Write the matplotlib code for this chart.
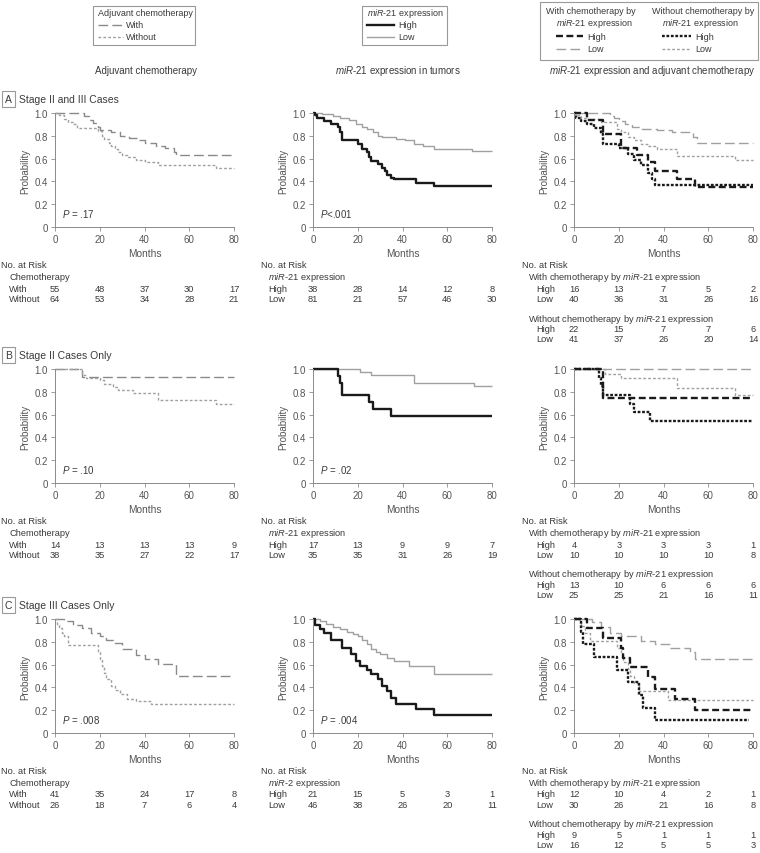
import matplotlib
matplotlib.use('Agg')
import matplotlib.pyplot as plt
from matplotlib import transforms
from matplotlib.lines import Line2D
from matplotlib.patches import Rectangle

plt.rcParams['font.family'] = ['Liberation Sans', 'DejaVu Sans']
plt.rcParams['mathtext.fontset'] = 'custom'
plt.rcParams['mathtext.rm'] = 'Liberation Sans'
plt.rcParams['mathtext.it'] = 'Liberation Sans:italic'
plt.rcParams['lines.scale_dashes'] = False

W, H = 760, 854
TXT = '#3a3a3a'
AXC = '#8a8a8a'
BLACK = '#1a1a1a'
FS = 6.7
MIR = r'$\mathit{miR}$-$\mathit{21}$'

MONTHS = [0, 20, 40, 60, 80]
YTICKS = [0, 0.2, 0.4, 0.6, 0.8, 1.0]
YTICKLABELS = ['0', '0.2', '0.4', '0.6', '0.8', '1.0']

# ---- A: stage II and III ----
A_WITH_T = [0, 13, 15, 17, 19, 20, 25, 29, 33, 37, 40, 45, 49, 53, 54]
A_WITH_S = [1, 0.97, 0.94, 0.91, 0.88, 0.85, 0.83, 0.80, 0.78, 0.76, 0.74, 0.71, 0.69, 0.66, 0.63]
A_WO_T = [0, 2, 4, 6, 8, 10, 19, 21, 22, 24, 25, 27, 28, 30, 32, 36, 40, 46, 72]
A_WO_S = [1, 0.98, 0.95, 0.92, 0.90, 0.87, 0.84, 0.80, 0.77, 0.74, 0.71, 0.68, 0.66, 0.63, 0.61, 0.59, 0.57, 0.54, 0.515]
A_HIGH_T = [0, 1, 2, 5, 8, 11, 12, 13, 20, 22, 24, 25, 26, 29, 31, 32, 33, 35, 36, 46, 54]
A_HIGH_S = [1, 0.98, 0.96, 0.93, 0.90, 0.875, 0.83, 0.76, 0.73, 0.68, 0.655, 0.61, 0.58, 0.55, 0.52, 0.49, 0.46, 0.43, 0.42, 0.39, 0.36]
A_LOW_T = [0, 4, 9, 12, 16, 19, 22, 24, 27, 29, 31, 37, 41, 45, 49, 54, 71]
A_LOW_S = [1, 0.99, 0.977, 0.96, 0.94, 0.90, 0.875, 0.86, 0.83, 0.80, 0.79, 0.77, 0.76, 0.73, 0.71, 0.68, 0.665]
A_WH_T = [0, 6, 13, 21, 28, 33, 36, 46, 54]
A_WH_S = [1, 0.94, 0.82, 0.69, 0.63, 0.57, 0.49, 0.42, 0.35]
A_WL_T = [0, 16, 18, 20, 23, 26, 29, 37, 44, 53, 55]
A_WL_S = [1, 0.975, 0.96, 0.93, 0.90, 0.875, 0.86, 0.85, 0.83, 0.79, 0.74]
A_WOH_T = [0, 1, 3, 6, 9, 12, 13, 20, 24, 27, 30, 33, 35, 36]
A_WOH_S = [1, 0.96, 0.93, 0.90, 0.87, 0.82, 0.73, 0.69, 0.64, 0.59, 0.54, 0.47, 0.42, 0.37]
A_WOL_T = [0, 1, 3, 6, 12, 19, 21, 24, 27, 30, 33, 37, 46, 72]
A_WOL_S = [1, 0.98, 0.96, 0.95, 0.92, 0.86, 0.83, 0.79, 0.76, 0.73, 0.71, 0.68, 0.62, 0.59]

# ---- B: stage II only ----
B_WITH_T = [0, 12]
B_WITH_S = [1, 0.93]
B_WO_T = [0, 12, 14, 20, 22, 26, 28, 35, 46, 72]
B_WO_S = [1, 0.95, 0.92, 0.90, 0.87, 0.84, 0.82, 0.79, 0.73, 0.69]
B_HIGH_T = [0, 11, 12, 13, 25, 27, 35]
B_HIGH_S = [1, 0.94, 0.88, 0.77, 0.71, 0.65, 0.59]
B_LOW_T = [0, 21, 26, 45, 72]
B_LOW_S = [1, 0.97, 0.95, 0.88, 0.85]
B_WH_T = [0, 13]
B_WH_S = [1, 0.75]
B_WL_T = [0]
B_WL_S = [1]
B_WOH_T = [0, 11, 12, 13, 25, 27, 34]
B_WOH_S = [1, 0.92, 0.85, 0.77, 0.69, 0.62, 0.54]
B_WOL_T = [0, 14, 21, 46, 72]
B_WOL_S = [1, 0.96, 0.92, 0.83, 0.77]

# ---- C: stage III only ----
C_WITH_T = [0, 4, 8, 12, 16, 20, 23, 26, 30, 36, 40, 46, 54]
C_WITH_S = [1, 0.98, 0.95, 0.92, 0.88, 0.85, 0.82, 0.79, 0.735, 0.68, 0.65, 0.605, 0.50]
C_WO_T = [0, 1, 2, 3, 4, 6, 19, 20, 21, 22, 23, 25, 27, 29, 32, 36, 43]
C_WO_S = [1, 0.96, 0.92, 0.88, 0.85, 0.77, 0.71, 0.65, 0.59, 0.53, 0.47, 0.415, 0.38, 0.34, 0.30, 0.285, 0.256]
C_HIGH_T = [0, 1, 3, 5, 8, 13, 17, 19, 21, 24, 26, 29, 31, 33, 35, 37, 46, 54]
C_HIGH_S = [1, 0.95, 0.91, 0.88, 0.82, 0.75, 0.69, 0.63, 0.59, 0.55, 0.52, 0.47, 0.415, 0.37, 0.31, 0.256, 0.21, 0.155]
C_LOW_T = [0, 3, 6, 9, 12, 15, 18, 20, 22, 24, 26, 28, 30, 33, 36, 43, 54]
C_LOW_S = [1, 0.98, 0.96, 0.93, 0.91, 0.89, 0.87, 0.85, 0.82, 0.78, 0.74, 0.71, 0.69, 0.66, 0.63, 0.59, 0.52]
C_WH_T = [0, 6, 13, 21, 22, 25, 33, 36, 45, 54]
C_WH_S = [1, 0.92, 0.83, 0.75, 0.66, 0.58, 0.49, 0.39, 0.30, 0.20]
C_WL_T = [0, 8, 12, 16, 21, 30, 36, 43, 52, 54]
C_WL_S = [1, 0.97, 0.93, 0.88, 0.85, 0.81, 0.78, 0.75, 0.71, 0.645]
C_WOH_T = [0, 3, 4, 9, 19, 24, 29, 31, 36]
C_WOH_S = [1, 0.889, 0.778, 0.667, 0.556, 0.444, 0.333, 0.222, 0.111]
C_WOL_T = [0, 3, 5, 7, 19, 21, 22, 24, 25, 27, 29, 42]
C_WOL_S = [1, 0.94, 0.875, 0.81, 0.75, 0.69, 0.625, 0.5625, 0.5, 0.4375, 0.37, 0.29]

# numbers at risk
A_RISK_CHEMO = [[55, 48, 37, 30, 17], [64, 53, 34, 28, 21]]
A_RISK_MIR = [[38, 28, 14, 12, 8], [81, 21, 57, 46, 30]]
A_RISK_WITH = [[16, 13, 7, 5, 2], [40, 36, 31, 26, 16]]
A_RISK_WO = [[22, 15, 7, 7, 6], [41, 37, 26, 20, 14]]
B_RISK_CHEMO = [[14, 13, 13, 13, 9], [38, 35, 27, 22, 17]]
B_RISK_MIR = [[17, 13, 9, 9, 7], [35, 35, 31, 26, 19]]
B_RISK_WITH = [[4, 3, 3, 3, 1], [10, 10, 10, 10, 8]]
B_RISK_WO = [[13, 10, 6, 6, 6], [25, 25, 21, 16, 11]]
C_RISK_CHEMO = [[41, 35, 24, 17, 8], [26, 18, 7, 6, 4]]
C_RISK_MIR = [[21, 15, 5, 3, 1], [46, 38, 26, 20, 11]]
C_RISK_WITH = [[12, 10, 4, 2, 1], [30, 26, 21, 16, 8]]
C_RISK_WO = [[9, 5, 1, 1, 1], [16, 12, 5, 5, 3]]

P_VALUES = [['.17', '<.001'], ['.10', '.02'], ['.008', '.004']]
PANEL_LETTERS = ['A', 'B', 'C']
PANEL_TITLES = ['Stage II and III Cases', 'Stage II Cases Only', 'Stage III Cases Only']
MIR_SUB = [MIR + ' expression', MIR + ' expression', r'$\mathit{miR}$-$\mathit{2}$ expression']

LG = '#a0a0a0'
STY = {
    'with': dict(color='#8a8a8a', lw=1.0, dashes=(7, 3)),
    'without': dict(color=LG, lw=1.0, dashes=(2, 1.5)),
    'high': dict(color=BLACK, lw=1.7, ls='-'),
    'low': dict(color=LG, lw=1.0, ls='-'),
    'with_high': dict(color=BLACK, lw=1.7, dashes=(5, 2.5)),
    'with_low': dict(color=LG, lw=1.0, dashes=(7, 3)),
    'without_high': dict(color=BLACK, lw=1.7, dashes=(2, 1.2)),
    'without_low': dict(color=LG, lw=1.0, dashes=(2, 1.5)),
}

COL_X = [55, 313, 574]
ROW_Y = [114, 370, 620]
AW, AH = 179, 114

fig = plt.figure(figsize=(W / 100, H / 100), dpi=100)


def fx(x):
    return x / W


def fy(y):
    return 1 - y / H


def ftext(x, y, s, **kw):
    kw.setdefault('fontsize', FS)
    kw.setdefault('color', TXT)
    kw.setdefault('va', 'center')
    fig.text(fx(x), fy(y), s, **kw)


def km(ax, t, s, key, end=80):
    ax.step(list(t) + [end], list(s) + [s[-1]], where='post', clip_on=False,
            solid_capstyle='butt', **STY[key])


def style_axes(ax):
    ax.set_xlim(0, 80)
    ax.set_ylim(0, 1)
    for side in ['top', 'right']:
        ax.spines[side].set_visible(False)
    for side in ['left', 'bottom']:
        ax.spines[side].set_color(AXC)
        ax.spines[side].set_linewidth(0.7)
    ax.set_xticks(MONTHS)
    ax.set_yticks(YTICKS)
    ax.set_yticklabels(YTICKLABELS)
    ax.tick_params(length=3, width=0.6, color=AXC, labelsize=7,
                   labelcolor='#555555', pad=2)
    ax.set_xlabel('Months', fontsize=7.3, color='#555555', labelpad=3)
    ax.set_ylabel('Probability', fontsize=7, color='#555555', labelpad=3)
    ax.patch.set_visible(False)


def risk_rows(ax, y, label, values, lx):
    tr = transforms.blended_transform_factory(ax.transData, fig.transFigure)
    ftext(lx, y, label, ha='left')
    for m, v in zip(MONTHS, values):
        ax.text(m, fy(y), str(v), transform=tr, ha='center', va='center',
                fontsize=FS, color=TXT)


def legend_line(x0, x1, y, key):
    fig.add_artist(Line2D([fx(x0), fx(x1)], [fy(y), fy(y)],
                          transform=fig.transFigure, **STY[key]))


def box(x0, y0, x1, y1):
    fig.add_artist(Rectangle((fx(x0), fy(y1)), fx(x1) - fx(x0), fy(y0) - fy(y1),
                             transform=fig.transFigure, fill=False,
                             edgecolor='#999999', lw=0.8))


LFS = 6.5
# legends
box(93, 7, 195, 46)
ftext(98, 14, 'Adjuvant chemotherapy', fontsize=LFS)
legend_line(98, 123, 26, 'with'); ftext(126, 26, 'With', fontsize=LFS)
legend_line(98, 123, 38, 'without'); ftext(126, 38, 'Without', fontsize=LFS)

box(362, 7, 447, 46)
ftext(367, 14, MIR + ' expression', fontsize=LFS)
legend_line(367, 394, 26, 'high'); ftext(398, 26, 'High', fontsize=LFS)
legend_line(367, 394, 38, 'low'); ftext(398, 38, 'Low', fontsize=LFS)

box(540, 3, 758, 61)
ftext(546, 12, 'With chemotherapy by', fontsize=LFS)
ftext(556, 24, MIR + ' expression', fontsize=LFS)
legend_line(556, 583, 37, 'with_high'); ftext(587, 37, 'High', fontsize=LFS)
legend_line(556, 583, 50, 'with_low'); ftext(587, 50, 'Low', fontsize=LFS)
ftext(652, 12, 'Without chemotherapy by', fontsize=LFS)
ftext(662, 24, MIR + ' expression', fontsize=LFS)
legend_line(662, 691, 37, 'without_high'); ftext(695, 37, 'High', fontsize=LFS)
legend_line(662, 691, 50, 'without_low'); ftext(695, 50, 'Low', fontsize=LFS)

# column titles
ftext(146, 71, 'Adjuvant chemotherapy', ha='center', fontsize=7)
ftext(398, 71, MIR + ' expression in tumors', ha='center', fontsize=7)
ftext(652, 71, MIR + ' expression and adjuvant chemotherapy', ha='center', fontsize=7)

curves_a = [
    [(A_WITH_T, A_WITH_S, 'with'), (A_WO_T, A_WO_S, 'without')],
    [(A_LOW_T, A_LOW_S, 'low'), (A_HIGH_T, A_HIGH_S, 'high')],
    [(A_WL_T, A_WL_S, 'with_low'), (A_WOL_T, A_WOL_S, 'without_low'),
     (A_WOH_T, A_WOH_S, 'without_high'), (A_WH_T, A_WH_S, 'with_high')],
]
curves_b = [
    [(B_WITH_T, B_WITH_S, 'with'), (B_WO_T, B_WO_S, 'without')],
    [(B_LOW_T, B_LOW_S, 'low'), (B_HIGH_T, B_HIGH_S, 'high')],
    [(B_WL_T, B_WL_S, 'with_low'), (B_WOL_T, B_WOL_S, 'without_low'),
     (B_WOH_T, B_WOH_S, 'without_high'), (B_WH_T, B_WH_S, 'with_high')],
]
curves_c = [
    [(C_WITH_T, C_WITH_S, 'with'), (C_WO_T, C_WO_S, 'without')],
    [(C_LOW_T, C_LOW_S, 'low'), (C_HIGH_T, C_HIGH_S, 'high')],
    [(C_WL_T, C_WL_S, 'with_low'), (C_WOL_T, C_WOL_S, 'without_low'),
     (C_WOH_T, C_WOH_S, 'without_high', 78), (C_WH_T, C_WH_S, 'with_high')],
]
all_curves = [curves_a, curves_b, curves_c]
risks = [
    (A_RISK_CHEMO, A_RISK_MIR, A_RISK_WITH, A_RISK_WO),
    (B_RISK_CHEMO, B_RISK_MIR, B_RISK_WITH, B_RISK_WO),
    (C_RISK_CHEMO, C_RISK_MIR, C_RISK_WITH, C_RISK_WO),
]

# row offsets below axes bottom
OFF = [38, 50, 61, 72, 91, 102, 112]

for r in range(3):
    top = ROW_Y[r]
    bot = top + AH
    # panel label
    ftext(8.5, top - 14, PANEL_LETTERS[r], ha='center', fontsize=7.5,
          bbox=dict(boxstyle='square,pad=0.3', fc='white', ec='#999999', lw=0.8))
    ftext(19, top - 14, PANEL_TITLES[r], ha='left', fontsize=7.5)
    axes = []
    for c in range(3):
        ax = fig.add_axes([fx(COL_X[c]), fy(bot), AW / W, AH / H])
        style_axes(ax)
        for item in all_curves[r][c]:
            km(ax, *item)
        if c < 2:
            pv = P_VALUES[r][c]
            sep = '' if pv.startswith('<') else ' = '
            ax.text(0.04, 0.09, r'$\mathit{P}$' + sep + pv, transform=ax.transAxes,
                    fontsize=7, color=TXT)
        axes.append(ax)

    chemo, mir, rw, rwo = risks[r]
    # column 1
    ftext(1, bot + OFF[0], 'No. at Risk')
    ftext(9, bot + OFF[1], 'Chemotherapy')
    risk_rows(axes[0], bot + OFF[2], 'With', chemo[0], 9)
    risk_rows(axes[0], bot + OFF[3], 'Without', chemo[1], 9)
    # column 2
    ftext(261, bot + OFF[0], 'No. at Risk')
    ftext(268, bot + OFF[1], MIR_SUB[r])
    risk_rows(axes[1], bot + OFF[2], 'High', mir[0], 268)
    risk_rows(axes[1], bot + OFF[3], 'Low', mir[1], 268)
    # column 3
    ftext(522, bot + OFF[0], 'No. at Risk')
    ftext(528, bot + OFF[1], 'With chemotherapy by ' + MIR + ' expression')
    risk_rows(axes[2], bot + OFF[2], 'High', rw[0], 536)
    risk_rows(axes[2], bot + OFF[3], 'Low', rw[1], 536)
    ftext(528, bot + OFF[4], 'Without chemotherapy by ' + MIR + ' expression')
    risk_rows(axes[2], bot + OFF[5], 'High', rwo[0], 536)
    risk_rows(axes[2], bot + OFF[6], 'Low', rwo[1], 536)

fig.savefig('out.png', dpi=100)
